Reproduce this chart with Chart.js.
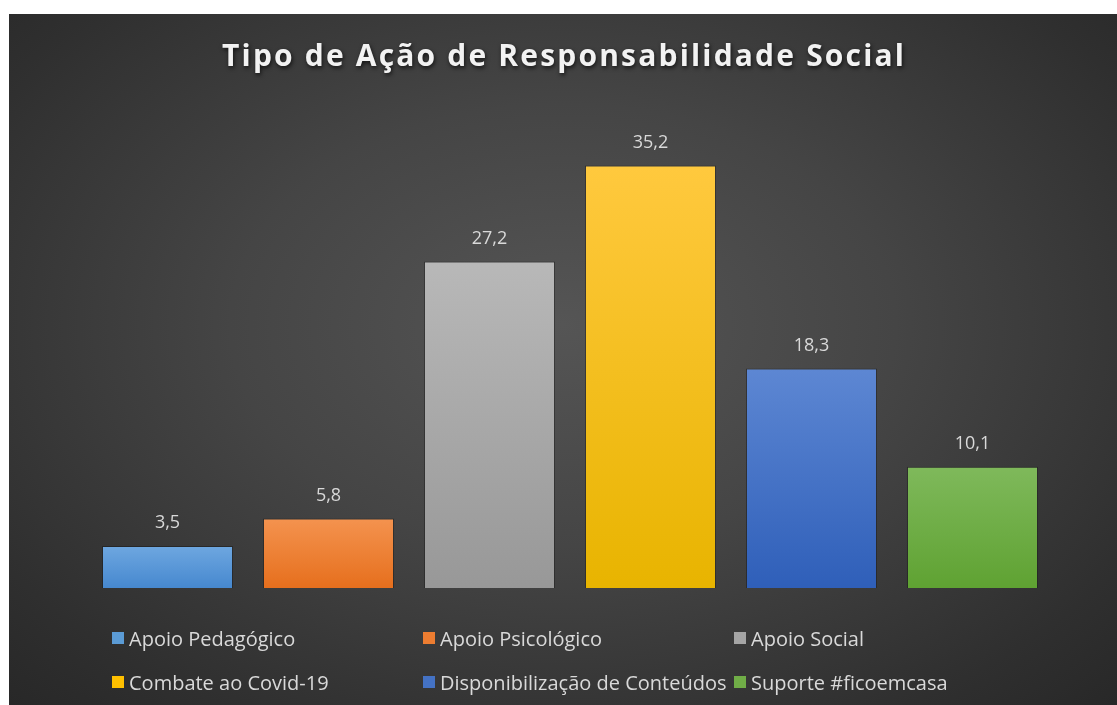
<!DOCTYPE html>
<html>
<head>
<meta charset="utf-8">
<script src="https://cdn.jsdelivr.net/npm/chart.js@4"></script>
<style>
  body { margin: 0; background: #fff; }
  #box {
    position: absolute; left: 9px; top: 14px; width: 1108px; height: 691px;
    background: radial-gradient(ellipse 75% 80% at 50% 45%, #555555 0%, #454545 40%, #2f2f2f 80%, #262626 100%);
  }
  #legend {
    position: absolute; left: 103px; top: 611px; width: 960px;
    display: grid; grid-template-columns: 311px 311px 311px; row-gap: 18px;
    font-family: "Open Sans", sans-serif; font-size: 20px; color: #d9d9d9;
  }
  .item { display: flex; align-items: center; height: 26px; white-space: nowrap; }
  .mark { width: 12px; height: 12px; margin-right: 5px; }
</style>
</head>
<body>
<div id="box">
  <canvas id="chart" width="1108" height="691"></canvas>
  <div id="legend"></div>
</div>
<script>
// Tipo de Ação de Responsabilidade Social
const chartTitle = 'Tipo de Ação de Responsabilidade Social';
const categories = ['Apoio Pedagógico', 'Apoio Psicológico', 'Apoio Social',
                    'Combate ao Covid-19', 'Disponibilização de Conteúdos', 'Suporte #ficoemcasa'];
const values = [3.5, 5.8, 27.2, 35.2, 18.3, 10.1];
const topColors = ['#6ea7e0', '#f4934f', '#b8b8b8', '#ffc93e', '#5d87d3', '#7fb95b'];
const bottomColors = ['#4688cf', '#e66f1d', '#989898', '#e8b400', '#2f5fb9', '#5fa232'];
const legendColors = ['#5b9bd5', '#ed7d31', '#a5a5a5', '#ffc000', '#4472c4', '#70ad47'];

function fmt(v) {
    return v.toFixed(1).replace('.', ',');
}

function barGradient(context) {
    const chart = context.chart;
    const area = chart.chartArea;
    const i = context.dataIndex;
    const yScale = chart.scales.y;
    if (!area || !yScale) return legendColors[i];
    const top = yScale.getPixelForValue(values[i]);
    if (!isFinite(top) || !isFinite(area.bottom)) return legendColors[i];
    const g = chart.ctx.createLinearGradient(0, top, 0, area.bottom);
    g.addColorStop(0, topColors[i]);
    g.addColorStop(1, bottomColors[i]);
    return g;
}

const titlePlugin = {
    id: 'spacedTitle',
    afterDraw(chart) {
        const ctx = chart.ctx;
        ctx.save();
        ctx.font = 'bold 30px "Open Sans"';
        ctx.letterSpacing = '0px';
        const w = ctx.measureText(chartTitle).width;
        const spacing = Math.max(0, (682 - w) / (chartTitle.length - 1));
        ctx.letterSpacing = spacing + 'px';
        ctx.fillStyle = '#f2f2f2';
        ctx.textAlign = 'center';
        ctx.textBaseline = 'alphabetic';
        ctx.shadowColor = 'rgba(0,0,0,0.7)';
        ctx.shadowBlur = 4;
        ctx.shadowOffsetX = 1;
        ctx.shadowOffsetY = 2;
        ctx.fillText(chartTitle, chart.width / 2 + spacing / 2, 52);
        ctx.restore();
    }
};

const valueLabels = {
    id: 'valueLabels',
    afterDatasetsDraw(chart) {
        const ctx = chart.ctx;
        const meta = chart.getDatasetMeta(0);
        ctx.save();
        ctx.font = '18px "Open Sans"';
        ctx.fillStyle = '#d9d9d9';
        ctx.textAlign = 'center';
        ctx.textBaseline = 'middle';
        meta.data.forEach((bar, i) => {
            ctx.fillText(fmt(values[i]), bar.x, bar.y - 23);
        });
        ctx.restore();
    }
};

const legend = document.getElementById('legend');
categories.forEach((name, i) => {
    const item = document.createElement('div');
    item.className = 'item';
    const mark = document.createElement('span');
    mark.className = 'mark';
    mark.style.background = legendColors[i];
    item.appendChild(mark);
    item.appendChild(document.createTextNode(name));
    legend.appendChild(item);
});

new Chart(document.getElementById('chart'), {
    type: 'bar',
    data: {
        labels: categories,
        datasets: [{
            data: values,
            backgroundColor: barGradient,
            borderColor: 'rgba(20,20,20,0.45)',
            borderWidth: 1,
            barPercentage: 0.814,
            categoryPercentage: 1
        }]
    },
    options: {
        responsive: false,
        animation: false,
        layout: { padding: { left: 78, right: 64, top: 94, bottom: 117 } },
        scales: {
            x: { display: false },
            y: { display: false, min: 0, max: 40 }
        },
        plugins: {
            legend: { display: false },
            title: { display: false },
            tooltip: { enabled: false }
        }
    },
    plugins: [titlePlugin, valueLabels]
});
</script>
</body>
</html>
